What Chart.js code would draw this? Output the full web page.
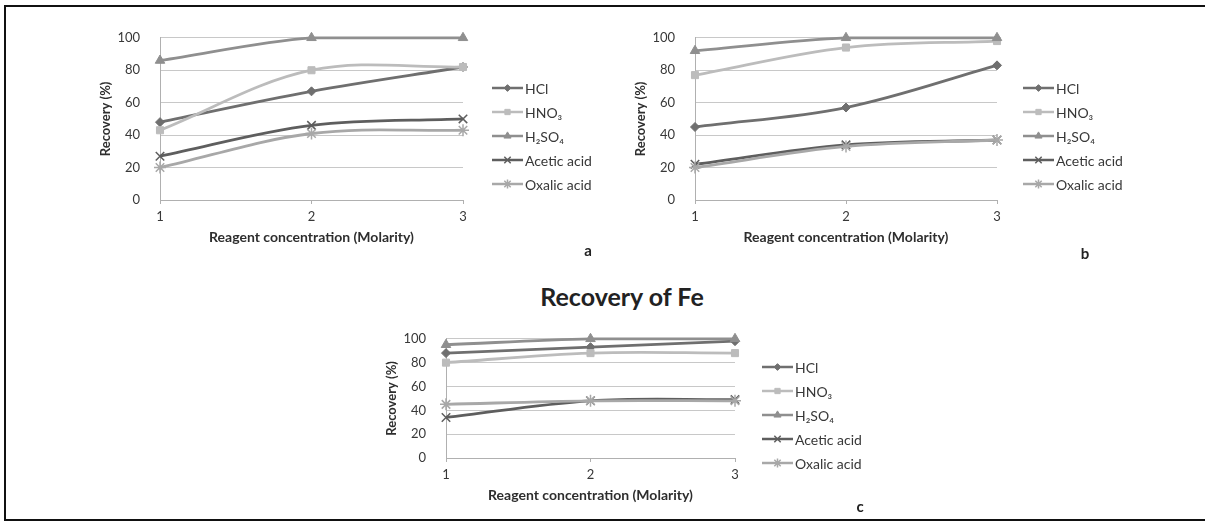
<!DOCTYPE html>
<html lang="en">
<head>
<meta charset="UTF-8">
<title>Recovery of Fe</title>
<script src="https://cdn.jsdelivr.net/npm/chart.js"></script>
<style>
  body { margin: 0; width: 1205px; height: 523px; background: #fff; position: relative; overflow: hidden; font-family: Lato, sans-serif; }
  .frame { position: absolute; left: 4px; top: 5px; width: 1300px; height: 512px; border: 2px solid #111; border-right: none; }
  canvas { position: absolute; }
  .tag { position: absolute; font: bold 15px Lato, sans-serif; color: #222; transform: translate(-50%, -50%); }
  .title { position: absolute; left: 622px; top: 296px; transform: translate(-50%, -50%); font: bold 25px Lato, sans-serif; color: #222; white-space: nowrap; }
</style>
</head>
<body>
<div class="frame"></div>
<canvas id="chartA" width="505" height="250" style="left:95px; top:10px;"></canvas>
<canvas id="chartB" width="505" height="250" style="left:630px; top:10px;"></canvas>
<canvas id="chartC" width="500" height="207" style="left:381px; top:311px;"></canvas>
<div class="title">Recovery of Fe</div>
<div class="tag" style="left:588px; top:250px;">a</div>
<div class="tag" style="left:1085px; top:253px;">b</div>
<div class="tag" style="left:860px; top:506px;">c</div>

<script>
// x categories
const molarity = ['1', '2', '3'];
const seriesNames = ['HCl', 'HNO₃', 'H₂SO₄', 'Acetic acid', 'Oxalic acid'];

// panel a
const hclA = [48, 67, 82];
const hno3A = [43, 80, 82];
const h2so4A = [86, 100, 100];
const aceticA = [27, 46, 50];
const oxalicA = [20, 41, 43];

// panel b
const hclB = [45, 57, 83];
const hno3B = [77, 94, 98];
const h2so4B = [92, 100, 100];
const aceticB = [22, 34, 37];
const oxalicB = [20, 33, 37];

// panel c (Fe)
const hclC = [88, 93, 98];
const hno3C = [80, 88, 88];
const h2so4C = [95, 100, 100];
const aceticC = [34, 48, 49];
const oxalicC = [45, 48, 48];

// look of each series
const seriesColors = ['#6f6f6f', '#bcbcbc', '#8f8f8f', '#5e5e5e', '#a8a8a8'];
const seriesMarks = ['rectRot', 'rect', 'triangle', 'crossRot', 'star'];
const markSizes = [4.5, 5, 5.5, 6, 6];

// legend drawn at the right of each plot: line + marker + name
const sideLegend = {
    id: 'sideLegend',
    afterDraw(chart, args, opts) {
        const ctx = chart.ctx;
        chart.data.datasets.forEach((ds, i) => {
            const x = opts.x;
            const y = opts.y + i * opts.gap;
            ctx.save();
            ctx.strokeStyle = ds.borderColor;
            ctx.fillStyle = ds.backgroundColor;
            ctx.lineWidth = 2.5;
            ctx.beginPath();
            ctx.moveTo(x, y);
            ctx.lineTo(x + 31, y);
            ctx.stroke();
            ctx.lineWidth = ds.pointBorderWidth;
            if (Chart.helpers && Chart.helpers.drawPoint) {
                Chart.helpers.drawPoint(ctx, { pointStyle: ds.pointStyle, radius: ds.pointRadius * 0.75, borderWidth: ds.pointBorderWidth, rotation: 0 }, x + 15.5, y);
            }
            ctx.fillStyle = '#383838';
            ctx.font = '14px Lato, sans-serif';
            ctx.textBaseline = 'middle';
            ctx.fillText(ds.label, x + 33, y + 1);
            ctx.restore();
        });
    }
};

function buildDatasets(values) {
    return values.map((vals, i) => ({
        label: seriesNames[i],
        data: vals,
        borderColor: seriesColors[i],
        backgroundColor: seriesColors[i],
        borderWidth: 2.8,
        pointStyle: seriesMarks[i],
        pointRadius: markSizes[i],
        pointBorderWidth: i >= 3 ? 1.5 : 1,
        tension: 0.35,
        clip: false,
        order: 5 - i
    }));
}

function makeChart(id, values, padRight, legendX, legendY) {
    new Chart(document.getElementById(id), {
        type: 'line',
        data: { labels: molarity, datasets: buildDatasets(values) },
        options: {
            responsive: false,
            animation: false,
            devicePixelRatio: 1,
            layout: { padding: { left: 2, top: 16, right: padRight, bottom: 12 } },
            plugins: {
                legend: { display: false },
                tooltip: { enabled: false },
                sideLegend: { x: legendX, y: legendY, gap: 24 }
            },
            scales: {
                x: {
                    offset: false,
                    grid: { drawOnChartArea: false, drawTicks: true, tickLength: 4, color: '#b0b0b0' },
                    border: { color: '#b0b0b0' },
                    ticks: { color: '#383838', font: { family: 'Lato', size: 13 }, padding: 5 },
                    title: { display: true, text: 'Reagent concentration (Molarity)', color: '#2e2e2e', font: { family: 'Lato', size: 14, weight: 'bold' }, padding: { top: 3, bottom: 2 } },
                    afterFit: s => { s.height = 48; }
                },
                y: {
                    min: 0,
                    max: 100,
                    grid: { drawTicks: false, color: '#c8c8c8' },
                    border: { color: '#b0b0b0' },
                    ticks: { stepSize: 20, color: '#383838', font: { family: 'Lato', size: 13 }, padding: 20 },
                    title: { display: true, text: 'Recovery (%)', color: '#2e2e2e', font: { family: 'Lato', size: 13, weight: 'bold' }, padding: { top: 1, bottom: 2 } },
                    afterFit: s => { s.width = 63; }
                }
            }
        },
        plugins: [sideLegend]
    });
}

makeChart('chartA', [hclA, hno3A, h2so4A, aceticA, oxalicA], 137, 397, 78);
makeChart('chartB', [hclB, hno3B, h2so4B, aceticB, oxalicB], 138, 393, 78);
makeChart('chartC', [hclC, hno3C, h2so4C, aceticC, oxalicC], 146, 381, 56);
</script>
</body>
</html>
